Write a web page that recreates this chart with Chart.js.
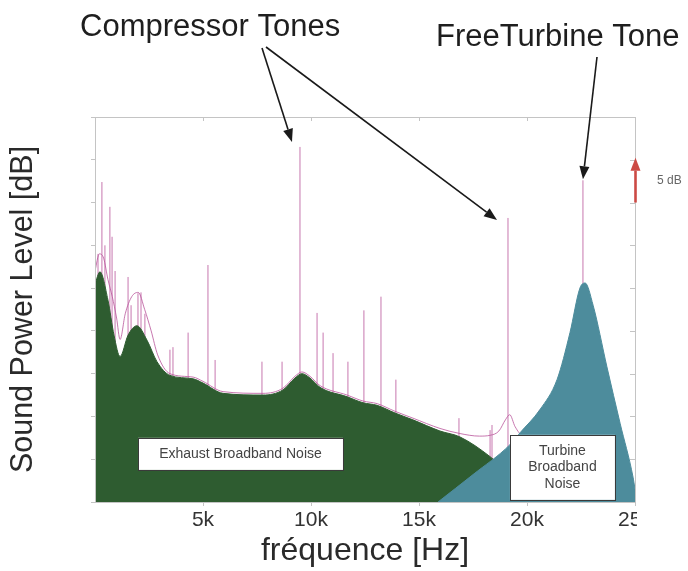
<!DOCTYPE html>
<html><head><meta charset="utf-8">
<script src="https://cdn.jsdelivr.net/npm/chart.js@4.4.1/dist/chart.umd.min.js"></script>
<style>html,body{margin:0;padding:0;background:#fff;}#wrap{width:688px;height:571px;}</style>
</head><body><div id="wrap"><canvas id="c" width="688" height="571"></canvas></div>
<script>
// ---- data (Hz, dB) ----
const exhaustFreq = [0, 230, 600, 880, 1160, 1530, 1940, 2410, 2870, 3470, 4540, 5000, 5930, 7780, 8700, 9260, 9580, 9950, 10420, 11670, 12410, 13060, 13890, 14720, 15970, 16900, 18290, 19210, 20600];
const exhaustDb   = [25.5, 26.9, 23.6, 19.5, 17.0, 19.5, 20.6, 18.9, 16.4, 14.8, 14.4, 13.9, 12.7, 12.5, 13.1, 14.5, 15.0, 14.5, 13.4, 12.3, 11.6, 11.3, 10.4, 9.6, 8.3, 7.6, 5.3, 3.2, 0];
const turbineFreq = [15880, 17500, 19210, 19680, 20600, 21390, 21990, 22450, 22690, 23060, 23700, 24310, 24910, 25000];
const turbineDb   = [0, 3.2, 6.7, 8.1, 10.8, 14.3, 19.8, 25.0, 25.6, 23.0, 15.8, 9.2, 2.9, 1.5];
const spectrumFreq = [0, 200, 400, 600, 800, 1000, 1160, 1400, 1700, 2000, 2300, 2600, 2900, 3470, 4540, 5000, 5930, 7780, 8700, 9260, 9580, 9950, 10420, 11670, 12410, 13060, 13890, 14720, 15970, 16900, 17800, 18300, 18700, 19000, 19200, 19450, 19800, 20600];
const spectrumDb   = [27, 29, 28.5, 26, 24, 21.5, 19, 22, 24, 24.5, 22.5, 20, 17.2, 15.0, 14.6, 14.1, 12.9, 12.7, 13.3, 14.7, 15.2, 14.7, 13.6, 12.5, 11.8, 11.5, 10.6, 9.8, 8.6, 8.0, 7.7, 7.8, 8.3, 9.6, 10.2, 8.8, 7.8, 10.8];
const toneFreq = [140, 320, 460, 690, 790, 930, 1530, 1670, 1990, 2130, 2310, 3470, 3610, 4310, 5230, 5560, 7730, 8660, 9490, 10280, 10560, 11020, 11710, 12450, 13240, 13930, 16850, 18290, 18380, 19120, 22590];
const toneDb   = [29, 37.4, 30, 34.5, 31, 27, 26.3, 23, 24.4, 24.5, 22, 17.8, 18.1, 19.8, 27.7, 16.6, 16.4, 16.4, 41.5, 22.1, 19.8, 17.4, 16.4, 22.4, 24, 14.3, 9.8, 8.4, 9, 33.2, 37.6];
const xTicks = [5000, 10000, 15000, 20000, 25000];
const xTickLabels = ['5k', '10k', '15k', '20k', '25k'];
const yTicks = [5, 10, 15, 20, 25, 30, 35, 40];
const compressorTones = [9490, 19120];
const freeTurbineTone = 22590;

const PINK = 'rgba(185,85,155,0.8)';
const GREEN = '#2e5c30';
const TEAL = '#4d8c9c';
const FONT = "'Liberation Sans', Arial, sans-serif";

const zip = (xs, ys) => xs.map((x, i) => ({x, y: ys[i]}));
const toneData = [];
toneFreq.forEach((f, i) => { toneData.push({x: f, y: 0}, {x: f, y: toneDb[i]}, {x: f, y: null}); });
const peakOf = f => toneDb[toneFreq.indexOf(f)];

function arrow(ctx, x1, y1, x2, y2, color, w, hl, hw) {
  const a = Math.atan2(y2 - y1, x2 - x1);
  const bx = x2 - hl * Math.cos(a), by = y2 - hl * Math.sin(a);
  ctx.save();
  ctx.strokeStyle = color; ctx.fillStyle = color; ctx.lineWidth = w;
  ctx.beginPath(); ctx.moveTo(x1, y1); ctx.lineTo(bx, by); ctx.stroke();
  ctx.beginPath();
  ctx.moveTo(x2, y2);
  ctx.lineTo(bx + hw / 2 * Math.sin(a), by - hw / 2 * Math.cos(a));
  ctx.lineTo(bx - hw / 2 * Math.sin(a), by + hw / 2 * Math.cos(a));
  ctx.closePath(); ctx.fill();
  ctx.restore();
}

const framePlugin = {
  id: 'frame',
  afterDatasetsDraw(chart) {
    const {ctx, chartArea: a, scales: {x, y}} = chart;
    ctx.save();
    ctx.strokeStyle = '#c4c4c4'; ctx.lineWidth = 1;
    ctx.strokeRect(Math.round(a.left) + 0.5, Math.round(a.top) + 0.5, Math.round(a.right - a.left), Math.round(a.bottom - a.top));
    ctx.beginPath();
    xTicks.slice(0, -1).forEach(v => { const px = Math.round(x.getPixelForValue(v)) + 0.5; ctx.moveTo(px, a.top); ctx.lineTo(px, a.top + 4); });
    yTicks.forEach(v => { const py = Math.round(y.getPixelForValue(v)) + 0.5; ctx.moveTo(a.right - 5, py); ctx.lineTo(a.right, py); });
    ctx.stroke();
    ctx.restore();
  }
};

const annotPlugin = {
  id: 'annot',
  afterDraw(chart) {
    const {ctx, chartArea: a, scales: {x, y}} = chart;
    ctx.save();
    // the reference page is cut just after the last tick label's "5"
    ctx.fillStyle = '#fff';
    ctx.fillRect(a.right + 2, a.bottom + 3, 60, 35);
    // header texts
    ctx.fillStyle = '#1e1e1e';
    ctx.font = '31px ' + FONT;
    ctx.textBaseline = 'alphabetic'; ctx.textAlign = 'left';
    ctx.fillText('Compressor Tones', 80, 36);
    ctx.fillText('FreeTurbine Tone', 436, 46);
    // arrows
    const c1x = x.getPixelForValue(compressorTones[0]), c1y = y.getPixelForValue(peakOf(compressorTones[0]));
    const c2x = x.getPixelForValue(compressorTones[1]), c2y = y.getPixelForValue(peakOf(compressorTones[1]));
    const ftx = x.getPixelForValue(freeTurbineTone), fty = y.getPixelForValue(peakOf(freeTurbineTone));
    arrow(ctx, 262, 48, c1x - 8, c1y - 5, '#1a1a1a', 1.6, 13, 10);
    arrow(ctx, 266, 47, c2x - 11, c2y + 2, '#1a1a1a', 1.6, 13, 10);
    arrow(ctx, 597, 57, ftx, fty - 1, '#1a1a1a', 1.6, 13, 10);
    // boxes
    const box = (f1, d1, f2, d2, lines, lh) => {
      const bx1 = x.getPixelForValue(f1), by1 = y.getPixelForValue(d1);
      const bx2 = x.getPixelForValue(f2), by2 = y.getPixelForValue(d2);
      ctx.fillStyle = '#fff';
      ctx.fillRect(bx1, by1, bx2 - bx1, by2 - by1);
      ctx.strokeStyle = '#3a3a3a'; ctx.lineWidth = 1;
      ctx.strokeRect(Math.round(bx1) + 0.5, Math.round(by1) + 0.5, Math.round(bx2 - bx1), Math.round(by2 - by1));
      ctx.fillStyle = '#444'; ctx.font = '14px ' + FONT;
      ctx.textAlign = 'center'; ctx.textBaseline = 'middle';
      const cx = (bx1 + bx2) / 2, cy = (by1 + by2) / 2;
      lines.forEach((t, i) => ctx.fillText(t, cx, cy + (i - (lines.length - 1) / 2) * lh));
    };
    box(1990, 7.5, 11480, 3.75, ['Exhaust Broadband Noise'], 16);
    box(19210, 7.85, 24070, 0.25, ['Turbine', 'Broadband', 'Noise'], 16.5);
    // 5 dB scale arrow
    const ry1 = y.getPixelForValue(35), ry2 = y.getPixelForValue(40);
    arrow(ctx, a.right + 0.5, ry1, a.right + 0.5, ry2 - 2, '#cc4a44', 2.6, 13, 10);
    ctx.fillStyle = '#666'; ctx.font = '12px ' + FONT;
    ctx.textAlign = 'left'; ctx.textBaseline = 'middle';
    ctx.fillText('5 dB', 657, (ry1 + ry2) / 2);
    ctx.restore();
  }
};

new Chart(document.getElementById('c'), {
  type: 'scatter',
  data: {
    datasets: [
      {data: toneData, showLine: true, spanGaps: false, borderColor: PINK, borderWidth: 1, pointRadius: 0, order: 4},
      {data: zip(spectrumFreq, spectrumDb), showLine: true, borderColor: PINK, borderWidth: 1, pointRadius: 0, cubicInterpolationMode: 'monotone', order: 3},
      {data: zip(exhaustFreq, exhaustDb), showLine: true, fill: 'origin', backgroundColor: GREEN, borderColor: GREEN, borderWidth: 1, pointRadius: 0, cubicInterpolationMode: 'monotone', order: 2},
      {data: zip(turbineFreq, turbineDb), showLine: true, fill: 'origin', backgroundColor: TEAL, borderColor: TEAL, borderWidth: 1, pointRadius: 0, cubicInterpolationMode: 'monotone', order: 1}
    ]
  },
  options: {
    responsive: false, animation: false, devicePixelRatio: 1,
    layout: {padding: {top: 117, right: 53, left: 0, bottom: 0}},
    plugins: {legend: {display: false}, tooltip: {enabled: false}},
    scales: {
      x: {
        type: 'linear', min: 0, max: 25000, offset: false,
        afterBuildTicks: s => { s.ticks = xTicks.map(v => ({value: v})); },
        ticks: {callback: v => xTickLabels[xTicks.indexOf(v)], font: {family: FONT, size: 21}, color: '#333', padding: 2, maxRotation: 0, autoSkip: false},
        grid: {drawOnChartArea: false, tickLength: 4, color: '#c4c4c4', offset: false},
        border: {display: false},
        title: {display: true, text: 'fréquence [Hz]', font: {family: FONT, size: 32, lineHeight: 1.2}, color: '#2a2a2a', padding: {top: 0, bottom: 1}},
        afterFit: s => { s.height = 69; }
      },
      y: {
        type: 'linear', min: 0, max: 45,
        afterBuildTicks: s => { s.ticks = [0].concat(yTicks, [45]).map(v => ({value: v})); },
        ticks: {display: false},
        grid: {drawOnChartArea: false, tickLength: 4, color: '#c4c4c4'},
        border: {display: false},
        title: {display: true, text: 'Sound Power Level [dB]', font: {family: FONT, size: 30.5, lineHeight: 1.2}, color: '#2a2a2a', padding: {top: 5, bottom: 0}},
        afterFit: s => { s.width = 95; }
      }
    }
  },
  plugins: [framePlugin, annotPlugin]
});
</script></body></html>
